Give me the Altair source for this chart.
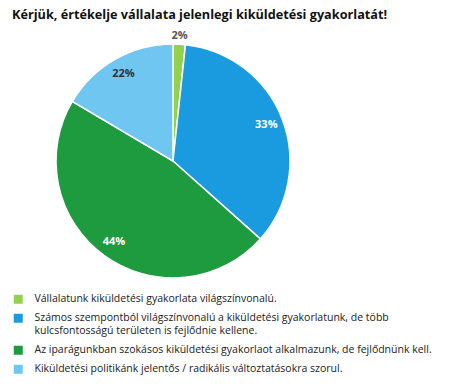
import altair as alt
import pandas as pd

categories = [
    "Vállalatunk kiküldetési gyakorlata világszínvonalú.",
    "Számos szempontból világszínvonalú a kiküldetési gyakorlatunk, de több\nkulcsfontosságú területen is fejlődnie kellene.",
    "Az iparágunkban szokásos kiküldetési gyakorlaot alkalmazunk, de fejlődnünk kell.",
    "Kiküldetési politikánk jelentős / radikális változtatásokra szorul.",
]
shares = [1.7, 34.9, 46.9, 16.5]
labels = ["2%", "33%", "44%", "22%"]
colors = ["#92D050", "#1A9BE0", "#1E9A3F", "#6FC6F0"]

df = pd.DataFrame({"cat": categories, "share": shares, "label": labels, "idx": list(range(len(categories)))})

FONT = "Open Sans"

base = alt.Chart(df).encode(
    theta=alt.Theta("share:Q", stack=True),
    order=alt.Order("idx:Q"),
)

pie = base.mark_arc(outerRadius=117, stroke="white", strokeWidth=1.5).encode(
    color=alt.Color(
        "cat:N",
        scale=alt.Scale(domain=categories, range=colors),
        sort=None,
        legend=alt.Legend(
            title=None,
            orient="none",
            legendX=13,
            legendY=264,
            symbolType="square",
            symbolSize=81,
            symbolStrokeWidth=0,
            labelFont=FONT,
            labelFontSize=10.5,
            labelColor="#222",
            labelLimit=500,
            rowPadding=8,
            labelOffset=11,
            labelExpr="split(datum.label, '\\n')",
        ),
    )
)

first = categories[0]
dark_cat = categories[3]

inner = base.mark_text(radius=100, font=FONT, fontSize=11, fontWeight="bold").encode(
    text=alt.condition(alt.datum.cat != first, "label:N", alt.value("")),
    color=alt.condition(alt.datum.cat == dark_cat, alt.value("#333333"), alt.value("white")),
)
outer = base.mark_text(radius=125, font=FONT, fontSize=11, fontWeight="bold", color="#555555").encode(
    text=alt.condition(alt.datum.cat == first, "label:N", alt.value("")),
)

chart = (
    alt.layer(pie, inner, outer)
    .properties(
        width=346,
        height=262,
        autosize=alt.AutoSizeParams(type="none"),
        padding={"left": 0, "top": 30, "right": 113, "bottom": 94},
        title=alt.TitleParams(
            "Kérjük, értékelje vállalata jelenlegi kiküldetési gyakorlatát!",
            anchor="start",
            frame="group",
            font=FONT,
            fontSize=12.7,
            fontWeight="bold",
            color="#111",
            dx=12,
            offset=8,
            limit=1000,
        ),
    )
    .configure_view(stroke=None)
)

chart.save("out.html", embed_options={"renderer": "svg", "actions": False})
